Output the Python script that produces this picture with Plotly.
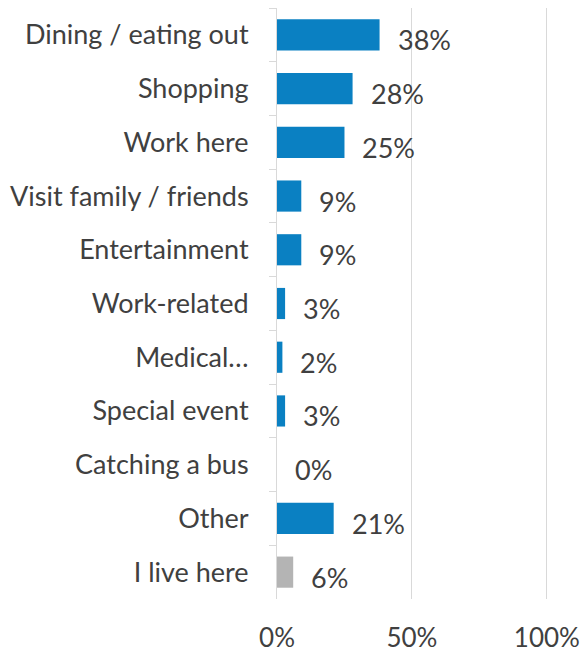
import plotly.graph_objects as go

categories = [
    "Dining / eating out", "Shopping", "Work here", "Visit family / friends",
    "Entertainment", "Work-related", "Medical…", "Special event",
    "Catching a bus", "Other", "I live here",
]
values = [38, 28, 25, 9, 9, 3, 2, 3, 0, 21, 6]
bar_colors = ["#0A80C2"] * 10 + ["#B4B4B4"]
x_ticks = [0, 50, 100]
x_tick_labels = ["0%", "50%", "100%"]

font_family = "Lato, 'Open Sans', sans-serif"
text_color = "#404040"
font_size = 27

fig = go.Figure(
    go.Bar(
        y=categories,
        x=values,
        orientation="h",
        marker=dict(color=bar_colors, line=dict(width=0)),
        width=0.58,
        hoverinfo="x+y",
    )
)

# value labels to the right of each bar end
for cat, v in zip(categories, values):
    fig.add_annotation(
        x=v, y=cat, xref="x", yref="y",
        text=f"{v}%", showarrow=False,
        xanchor="left", yanchor="middle",
        xshift=16, yshift=-5,
        font=dict(size=font_size, color=text_color, family=font_family),
    )

fig.update_layout(
    width=585,
    height=656,
    margin=dict(l=277, r=37, t=8, b=57),
    paper_bgcolor="white",
    plot_bgcolor="white",
    showlegend=False,
    font=dict(family=font_family, color=text_color, size=font_size),
)

fig.update_xaxes(
    range=[0, 100.4],
    tickvals=x_ticks,
    ticktext=x_tick_labels,
    showgrid=True,
    gridcolor="#D9D9D9",
    gridwidth=1,
    zeroline=False,
    showline=False,
    ticks="",
    ticklabelstandoff=21,
    automargin=False,
    tickfont=dict(size=26, color=text_color),
    fixedrange=True,
)

fig.update_yaxes(
    categoryorder="array",
    categoryarray=categories,
    autorange="reversed",
    showline=True,
    linecolor="#D9D9D9",
    linewidth=1,
    ticks="outside",
    tickson="boundaries",
    ticklen=7,
    tickcolor="#D9D9D9",
    ticklabelstandoff=22,
    automargin=False,
    tickfont=dict(size=font_size, color=text_color),
    showgrid=False,
)

fig.write_html("out.html")
